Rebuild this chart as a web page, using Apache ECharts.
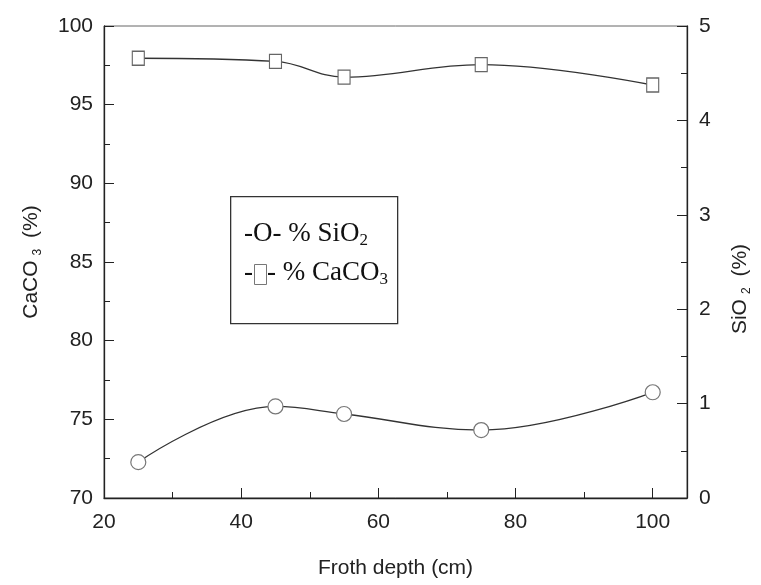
<!DOCTYPE html>
<html><head><meta charset="utf-8">
<script src="https://cdn.jsdelivr.net/npm/echarts@6/dist/echarts.min.js"></script>
<style>html,body{margin:0;padding:0;background:#fff}#c{width:761px;height:585px}</style>
</head><body><div id="c"></div>
<script>
const frothDepth = [25, 45, 55, 75, 100];
const caco3 = [97.95, 97.75, 96.75, 97.55, 96.25];
const sio2 = [0.38, 0.97, 0.89, 0.72, 1.12];
const xTicks = [20, 40, 60, 80, 100];
const caco3Ticks = [70, 75, 80, 85, 90, 95, 100];
const sio2Ticks = [0, 1, 2, 3, 4, 5];

const chart = echarts.init(document.getElementById('c'), null, {renderer: 'canvas'});
const sans = '"Liberation Sans", Arial, sans-serif';
const serif = '"Liberation Serif", "Times New Roman", serif';
const ink = '#222';
const lbl = {color: ink, fontFamily: sans, fontSize: 21};

chart.setOption({
  animation: false,
  backgroundColor: '#fff',
  grid: {left: 104, right: 71, top: 26, bottom: 87, show: true, borderColor: '#666', borderWidth: 1, backgroundColor: 'transparent'},
  xAxis: {
    type: 'value', min: xTicks[0], max: 105, interval: 20,
    name: 'Froth depth (cm)', nameLocation: 'middle', nameGap: 60,
    nameTextStyle: {color: ink, fontFamily: sans, fontSize: 21},
    axisLine: {show: true, lineStyle: {color: ink, width: 1.3}},
    axisTick: {show: true, inside: true, length: 10, lineStyle: {color: ink}},
    minorTick: {show: true, splitNumber: 2, length: 6, lineStyle: {color: ink}},
    splitLine: {show: false},
    axisLabel: Object.assign({margin: 14, formatter: v => xTicks.includes(v) ? String(v) : ''}, lbl)
  },
  yAxis: [{
    type: 'value', min: caco3Ticks[0], max: caco3Ticks[caco3Ticks.length-1], interval: 5, position: 'left',
    name: '{a|CaCO}{s|3}{a| (%)}', nameLocation: 'middle', nameGap: 60, nameRotate: 90,
    nameTextStyle: {rich: {a: {color: ink, fontFamily: sans, fontSize: 21, lineHeight: 26}, s: {color: ink, fontFamily: sans, fontSize: 12, verticalAlign: 'bottom', padding: [0, 5, 0, 5], lineHeight: 26}}},
    axisLine: {show: true, lineStyle: {color: ink, width: 1.3}},
    axisTick: {show: true, inside: true, length: 10, lineStyle: {color: ink}},
    minorTick: {show: true, splitNumber: 2, length: 6, lineStyle: {color: ink}},
    splitLine: {show: false},
    axisLabel: Object.assign({margin: 11}, lbl)
  }, {
    type: 'value', min: sio2Ticks[0], max: sio2Ticks[sio2Ticks.length-1], interval: 1, position: 'right',
    name: '{a|SiO}{s|2}{a| (%)}{p|}', nameLocation: 'middle', nameGap: 40, nameRotate: 90,
    nameTextStyle: {rich: {a: {color: ink, fontFamily: sans, fontSize: 21, lineHeight: 26}, s: {color: ink, fontFamily: sans, fontSize: 12, verticalAlign: 'bottom', padding: [0, 5, 0, 5], lineHeight: 26}, p: {width: 54, lineHeight: 26}}},
    axisLine: {show: true, lineStyle: {color: ink, width: 1.3}},
    axisTick: {show: true, inside: true, length: 10, lineStyle: {color: ink}},
    minorTick: {show: true, splitNumber: 2, length: 6, lineStyle: {color: ink}},
    splitLine: {show: false},
    axisLabel: Object.assign({margin: 12}, lbl)
  }],
  series: [{
    name: '% CaCO3', type: 'line', yAxisIndex: 0, smooth: 0.4,
    data: frothDepth.map((x, i) => [x, caco3[i]]),
    symbol: 'rect', symbolSize: [12, 14],
    itemStyle: {color: '#fff', borderColor: '#666', borderWidth: 1.2},
    lineStyle: {color: '#333', width: 1.3}
  }, {
    name: '% SiO2', type: 'line', yAxisIndex: 1, smooth: 0.4,
    data: frothDepth.map((x, i) => [x, sio2[i]]),
    symbol: 'circle', symbolSize: 15,
    itemStyle: {color: '#fff', borderColor: '#777', borderWidth: 1.2},
    lineStyle: {color: '#333', width: 1.3}
  }],
  graphic: [
    {type: 'rect', left: 230, top: 196, shape: {width: 167, height: 127}, style: {fill: '#fff', stroke: '#333', lineWidth: 1.3}, z: 10},
    {type: 'text', left: 244, top: 220, z: 11, style: {
      text: '{t|-O- % SiO}{s|2}',
      rich: {t: {fontFamily: serif, fontSize: 27, fill: '#111', lineHeight: 32}, s: {fontFamily: serif, fontSize: 17, fill: '#111', verticalAlign: 'bottom', lineHeight: 29}}
    }},
    {type: 'text', left: 244, top: 259, z: 11, style: {text: '-', fontFamily: serif, fontSize: 27, fill: '#111'}},
    {type: 'rect', left: 254, top: 264, z: 11, shape: {width: 12, height: 20}, style: {fill: '#fff', stroke: '#777', lineWidth: 1}},
    {type: 'text', left: 267, top: 259, z: 11, style: {
      text: '{t|- % CaCO}{s|3}',
      rich: {t: {fontFamily: serif, fontSize: 27, fill: '#111', lineHeight: 32}, s: {fontFamily: serif, fontSize: 17, fill: '#111', verticalAlign: 'bottom', lineHeight: 29}}
    }}
  ]
});
</script></body></html>
